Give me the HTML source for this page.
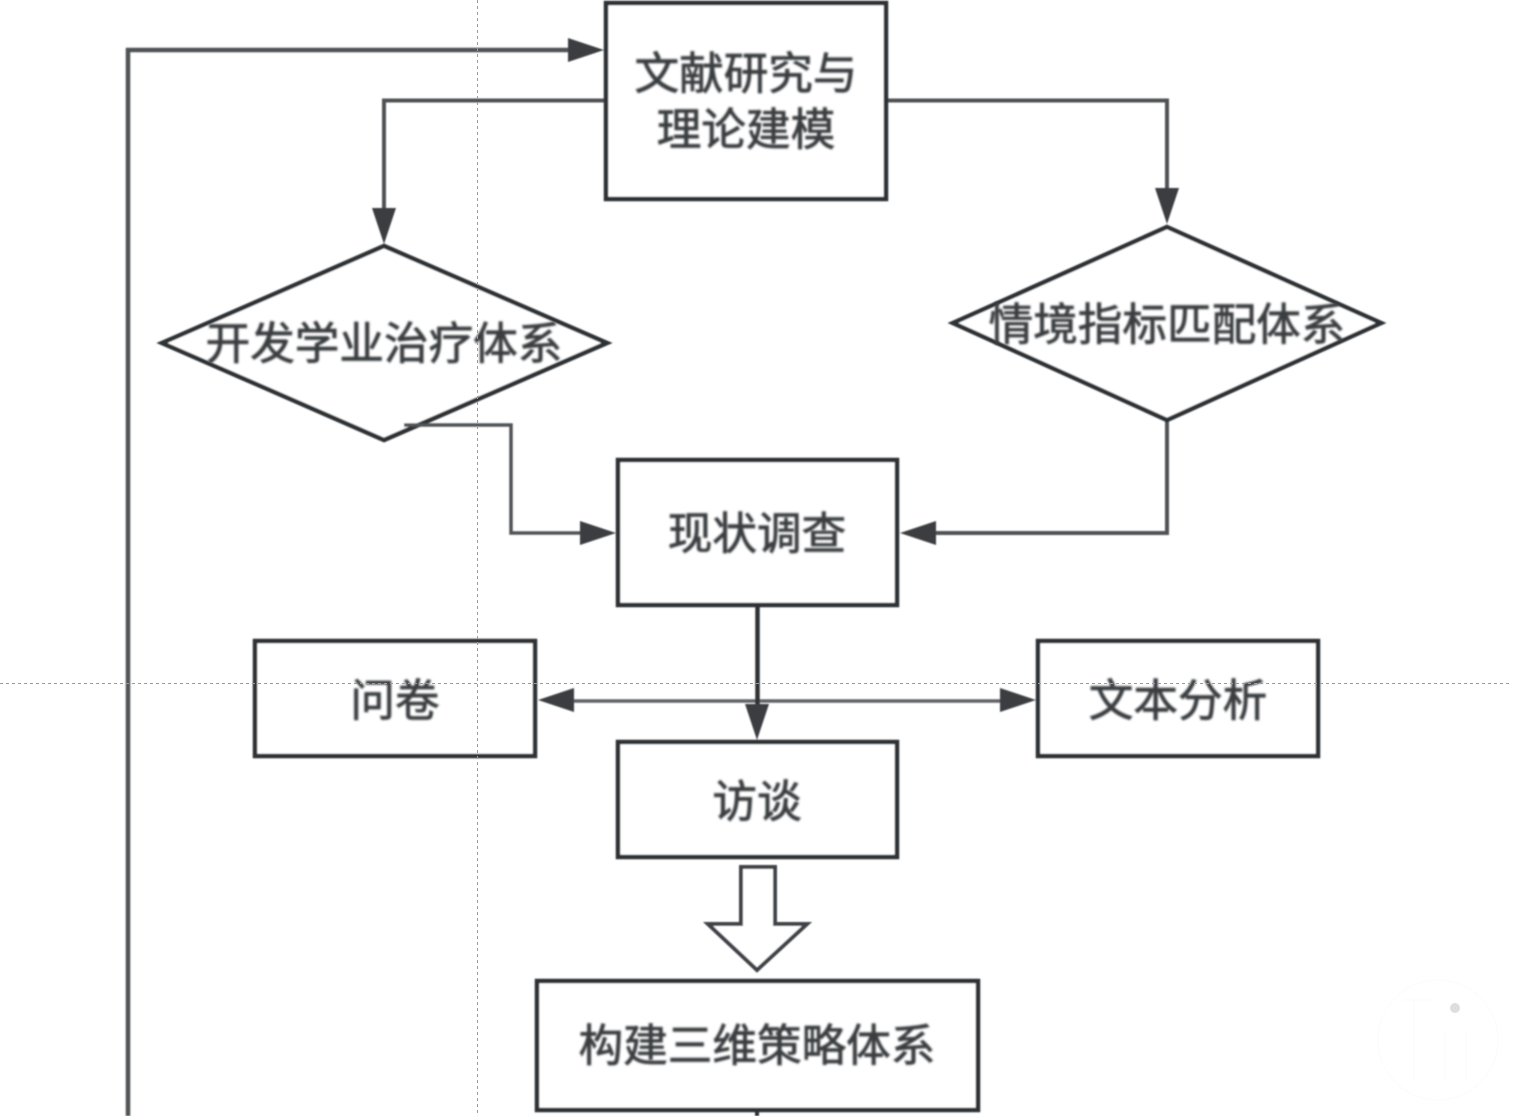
<!DOCTYPE html>
<html>
<head>
<meta charset="utf-8">
<style>
html,body{margin:0;padding:0;background:#fff;overflow:hidden;}
svg{display:block;}
text{font-family:"Liberation Sans","Noto Sans CJK SC",sans-serif;fill:#3a3d40;stroke:#3a3d40;stroke-width:.8px;font-size:44.6px;text-anchor:middle;}
</style>
</head>
<body>
<svg width="1514" height="1116" viewBox="0 0 1514 1116" xmlns="http://www.w3.org/2000/svg">
<defs>
<filter id="b" filterUnits="userSpaceOnUse" x="0" y="0" width="1514" height="1116"><feGaussianBlur stdDeviation="0.7"/></filter>
<filter id="t" filterUnits="userSpaceOnUse" x="0" y="0" width="1514" height="1116"><feGaussianBlur stdDeviation="1"/></filter>
</defs>
<rect width="1514" height="1116" fill="#fff"/>
<g filter="url(#b)">
<g fill="none" stroke="#505356" stroke-width="4">
<polyline points="128,1116 128,50 572,50" stroke-width="4.5"/>
<polyline points="606,100.5 384,100.5 384,212"/>
<polyline points="887,100.5 1167,100.5 1167,192"/>
<polyline points="1167,420 1167,533 932,533"/>
<line x1="570" y1="701" x2="1004" y2="701" stroke="#606366" stroke-width="3.5"/>
<line x1="757" y1="1108" x2="757" y2="1116" stroke="#2f3336"/>
</g>
<g fill="#fff" stroke="#2f3336" stroke-width="4.5">
<rect x="606" y="3" width="280" height="196"/>
<polygon points="384,246 607,343 384,440 162,343"/>
<polygon points="1167,227 1381,323 1167,420 953,323"/>
<rect x="618" y="460" width="279" height="145"/>
<rect x="255" y="641" width="280" height="115"/>
<rect x="1038" y="641" width="280" height="115"/>
<rect x="618" y="742" width="279" height="115"/>
<rect x="537" y="981" width="441" height="129"/>
<polygon points="741,867 775,867 775,924 807,924 757,970 708,924 741,924" stroke="#404346" stroke-width="4"/>
</g>
<g fill="none" stroke="#505356" stroke-width="3.5">
<polyline points="404,425 511,425 511,533 584,533"/>
</g>
<line x1="757.5" y1="606" x2="757.5" y2="710" stroke="#2f3336" stroke-width="4.5"/>
<g fill="#3a3e41">
<polygon points="604,50 568,38 568,62"/>
<polygon points="384,244 372,208 396,208"/>
<polygon points="1167,224 1155,188 1179,188"/>
<polygon points="616,533 580,521 580,545"/>
<polygon points="900,533 936,521 936,545"/>
<polygon points="538,700 574,688 574,712"/>
<polygon points="1036,700 1000,688 1000,712"/>
<polygon points="757,740 745,704 769,704"/>
</g>
</g>
<g filter="url(#t)">
<text x="746" y="89">文献研究与</text>
<text x="746" y="145">理论建模</text>
<text x="384" y="359">开发学业治疗体系</text>
<text x="1167" y="340">情境指标匹配体系</text>
<text x="757" y="549">现状调查</text>
<text x="395" y="716">问卷</text>
<text x="1178" y="716">文本分析</text>
<text x="757" y="817">访谈</text>
<text x="757" y="1061">构建三维策略体系</text>
</g>
<g stroke="#9a9a9a" stroke-width="1" stroke-dasharray="3 3" fill="none">
<line x1="477.5" y1="0" x2="477.5" y2="1116"/>
<line x1="0" y1="683.5" x2="1510" y2="683.5"/>
</g>
<circle cx="1455" cy="1008" r="5" fill="#dedede"/>
<g fill="none" stroke="#fbfbfb" stroke-width="1">
<circle cx="1438" cy="1040" r="60"/>
<path d="M1402,1000 h30 M1414,1000 v80 M1445,1030 v50 M1466,1030 v50"/>
</g>
</svg>
</body>
</html>
